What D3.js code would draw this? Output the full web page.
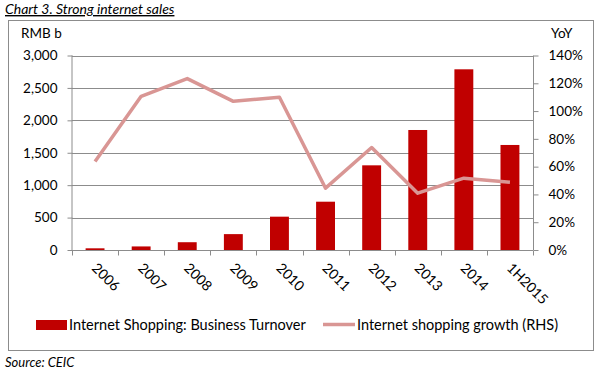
<!DOCTYPE html>
<html>
<head>
<meta charset="utf-8">
<script src="https://cdn.jsdelivr.net/npm/d3@7"></script>
<style>
  body { margin: 0; background: #fff; }
  svg { font-family: Lato, "Open Sans", sans-serif; }
</style>
</head>
<body>
<div id="chart"></div>
<script>
// data
const categories = ["2006", "2007", "2008", "2009", "2010", "2011", "2012", "2013", "2014", "1H2015"];
const turnover = [26, 55, 120, 245, 514, 745, 1306, 1851, 2787, 1620];   // RMB b
const growth = [63.7, 110.6, 123.4, 107, 109.9, 44.5, 73.8, 40.9, 51.7, 48.8]; // % YoY
const leftTicks = [0, 500, 1000, 1500, 2000, 2500, 3000];
const rightTicks = [0, 20, 40, 60, 80, 100, 120, 140];

const W = 600, H = 373;
const plot = {left: 72, right: 533, top: 55.5, bottom: 250};

const svg = d3.select("#chart").append("svg")
    .attr("width", W)
    .attr("height", H);

// title
svg.append("text")
    .attr("x", 5).attr("y", 14)
    .attr("font-size", 14).attr("font-style", "italic")
    .attr("text-decoration", "underline")
    .attr("fill", "#000")
    .text("Chart 3. Strong internet sales");

// outer frame
svg.append("rect")
    .attr("x", 8.5).attr("y", 20.5)
    .attr("width", 585).attr("height", 330)
    .attr("fill", "none").attr("stroke", "#8c8c8c").attr("stroke-width", 1);

let x = d3.scaleBand()
    .domain(categories)
    .range([plot.left, plot.right])
    .paddingInner(0.59)
    .paddingOuter(0.295);

let yL = d3.scaleLinear().domain([0, 3000]).range([plot.bottom, plot.top]);
let yR = d3.scaleLinear().domain([0, 140]).range([plot.bottom, plot.top]);

// gridlines
svg.append("g").selectAll("line")
    .data(leftTicks.slice(1))
    .enter().append("line")
    .attr("x1", plot.left).attr("x2", plot.right)
    .attr("y1", d => Math.round(yL(d)) + 0.5)
    .attr("y2", d => Math.round(yL(d)) + 0.5)
    .attr("stroke", "#8c8c8c").attr("stroke-width", 1);

// left axis
let leftAxis = d3.axisLeft(yL)
    .tickValues(leftTicks)
    .tickSize(5).tickPadding(10)
    .tickFormat(d3.format(","));
let gl = svg.append("g")
    .attr("transform", "translate(" + (plot.left + 0.5) + ",0)")
    .call(leftAxis);
gl.select(".domain").attr("stroke", "#8c8c8c").attr("d", "M-0.5," + plot.top + "V" + plot.bottom);
gl.selectAll(".tick line").attr("stroke", "#8c8c8c");
gl.selectAll(".tick text").attr("font-size", 13.5).attr("fill", "#000")
    .attr("font-family", "Lato, sans-serif");

// right axis
let rightAxis = d3.axisRight(yR)
    .tickValues(rightTicks)
    .tickSize(5).tickPadding(10)
    .tickFormat(d => d + "%");
let gr = svg.append("g")
    .attr("transform", "translate(" + (plot.right + 0.5) + ",0)")
    .call(rightAxis);
gr.select(".domain").attr("stroke", "#8c8c8c").attr("d", "M0," + plot.top + "V" + plot.bottom);
gr.selectAll(".tick line").attr("stroke", "#8c8c8c");
gr.selectAll(".tick text").attr("font-size", 13.5).attr("fill", "#000")
    .attr("font-family", "Lato, sans-serif");

// axis titles
svg.append("text").attr("x", 21).attr("y", 38).attr("font-size", 13.5).text("RMB b");
svg.append("text").attr("x", 551).attr("y", 38).attr("font-size", 13.5).text("YoY");

// bars
svg.append("g").selectAll("rect")
    .data(turnover)
    .enter().append("rect")
    .attr("x", (d, i) => x(categories[i]))
    .attr("width", x.bandwidth())
    .attr("y", d => yL(d))
    .attr("height", d => plot.bottom - yL(d))
    .attr("fill", "#c00000");

// x axis
let bottomAxis = d3.axisBottom(x).tickSize(0).tickFormat("");
let gb = svg.append("g")
    .attr("transform", "translate(0," + (plot.bottom + 0.5) + ")")
    .call(bottomAxis);
gb.select(".domain").attr("stroke", "#8c8c8c").attr("d", "M" + plot.left + ",0H" + plot.right);
// tick marks between categories
let bounds = d3.range(categories.length + 1).map(i => plot.left + i * x.step());
gb.selectAll(".sep").data(bounds).enter().append("line")
    .attr("x1", d => Math.round(d) + 0.5).attr("x2", d => Math.round(d) + 0.5)
    .attr("y1", 0).attr("y2", 5)
    .attr("stroke", "#8c8c8c");

// rotated category labels
svg.append("g").selectAll("text")
    .data(categories)
    .enter().append("text")
    .attr("transform", d => "translate(" + (x(d) + x.bandwidth() / 2 - 4) + ",269) rotate(45)")
    .attr("font-size", 14)
    .attr("fill", "#000")
    .text(d => d);

// growth line
let line = d3.line()
    .x((d, i) => x(categories[i]) + x.bandwidth() / 2)
    .y(d => yR(d));
svg.append("path")
    .datum(growth)
    .attr("d", line)
    .attr("fill", "none")
    .attr("stroke", "#d99694")
    .attr("stroke-width", 3.5)
    .attr("stroke-linejoin", "round");

// legend
let lg = svg.append("g");
lg.append("rect").attr("x", 36).attr("y", 320).attr("width", 31).attr("height", 10).attr("fill", "#c00000");
lg.append("text").attr("x", 69).attr("y", 330).attr("font-size", 14.5)
    .text("Internet Shopping: Business Turnover");
lg.append("line").attr("x1", 323).attr("x2", 355).attr("y1", 324.5).attr("y2", 324.5)
    .attr("stroke", "#d99694").attr("stroke-width", 3.5);
lg.append("text").attr("x", 357).attr("y", 330).attr("font-size", 14.5)
    .text("Internet shopping growth (RHS)");

// source
svg.append("text")
    .attr("x", 5).attr("y", 367)
    .attr("font-size", 13).attr("font-style", "italic")
    .text("Source: CEIC");
</script>
</body>
</html>
